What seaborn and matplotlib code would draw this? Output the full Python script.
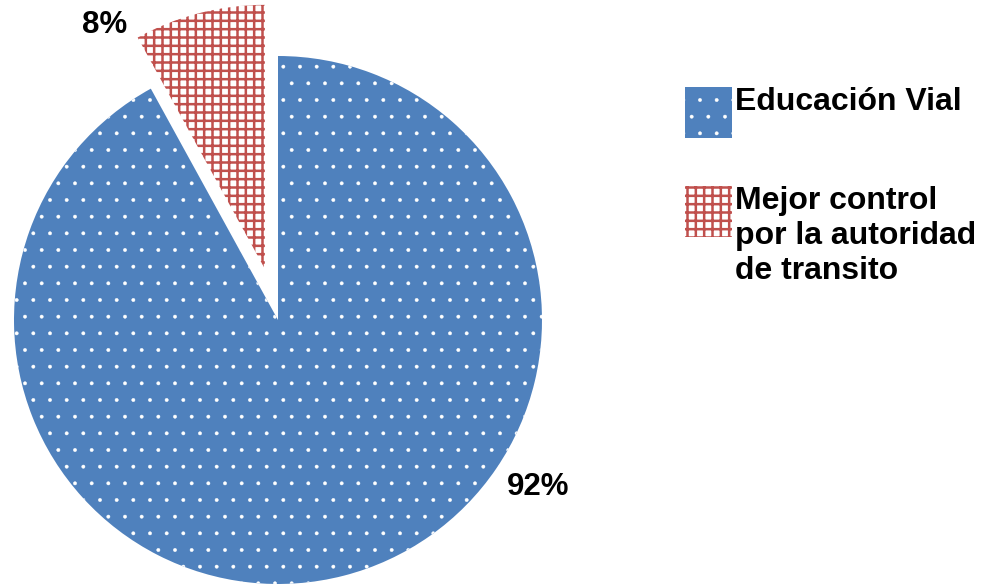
import textwrap
import matplotlib
matplotlib.use("Agg")
import matplotlib.pyplot as plt
import seaborn as sns

# datos del grafico
categorias = ["Educación Vial", "Mejor control por la autoridad de transito"]
porcentajes = [92, 8]
colores = ["#4F81BD", "#C0504D"]
# posicion de las etiquetas de porcentaje (en radios del pastel)
pos_etiquetas = [(0.985, -0.631), (-0.656, 1.116)]

sns.set_style("white")
plt.rcParams["font.family"] = ["Liberation Sans", "DejaVu Sans"]
plt.rcParams["hatch.linewidth"] = 1.8

fig = plt.figure(figsize=(9.9, 5.84), dpi=100)
ax = fig.add_axes([0, 0, 1, 1])

wedges, _ = ax.pie(porcentajes, startangle=90, counterclock=False,
                   explode=[0, 0.2], radius=1)

# relleno: puntos blancos sobre azul, cuadricula roja sobre blanco
wedges[0].set_facecolor(colores[0])
wedges[0].set_edgecolor("white")
wedges[0].set_hatch(".")
wedges[1].set_facecolor("white")
wedges[1].set_edgecolor(colores[1])
wedges[1].set_hatch("++")
for w in wedges:
    w.set_linewidth(0)
if hasattr(wedges[0], "set_hatch_linewidth"):
    wedges[0].set_hatch_linewidth(0.3)

for (x, y), v in zip(pos_etiquetas, porcentajes):
    ax.text(x, y, f"{v}%", ha="center", va="center",
            fontsize=22.5, fontweight="bold", color="black")

# escala: radio del pastel = 264 px, centro en (278, 320) px
r = 264
ax.set_xlim(-278 / r, (990 - 278) / r)
ax.set_ylim(-(584 - 320) / r, 320 / r)
ax.set_aspect("equal")
ax.axis("off")

etiquetas = [textwrap.fill(c, 16) for c in categorias]
leg = ax.legend(wedges, etiquetas, loc="upper left",
                bbox_to_anchor=(685 / 990, 1 - 87 / 584),
                bbox_transform=fig.transFigure, frameon=False,
                borderpad=0, borderaxespad=0, handletextpad=0.1,
                handlelength=1.47, handleheight=2.06, labelspacing=1.53,
                labelcolor="black", prop={"size": 23, "weight": "bold"})
for box in leg._legend_handle_box.get_children()[0].get_children():
    box.align = "top"
h0 = leg.legend_handles[0]
if hasattr(h0, "set_hatch_linewidth"):
    h0.set_hatch_linewidth(0.3)

fig.savefig("out.png", dpi=100)
